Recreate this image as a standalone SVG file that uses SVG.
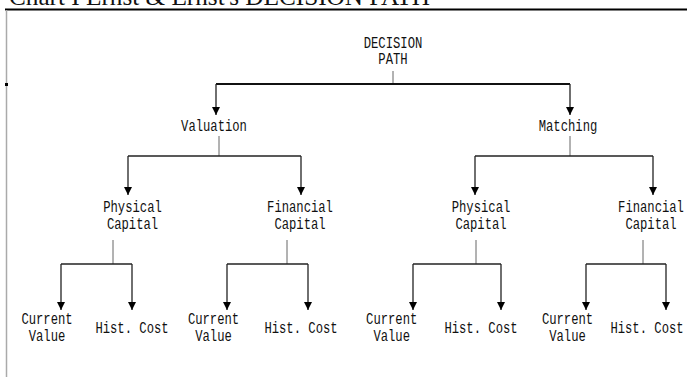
<svg xmlns="http://www.w3.org/2000/svg" width="687" height="377" viewBox="0 0 687 377">
<defs>
<style>
.lbl{font-family:"Liberation Mono","DejaVu Sans Mono",monospace;font-size:12.2px;fill:#111;text-anchor:middle}
.title{font-family:"Liberation Serif","Times New Roman",serif;font-size:24.5px;fill:#111}
.bar{stroke:#222;stroke-width:1.4;fill:none}
.stub{stroke:#666;stroke-width:1;fill:none}
.arr{stroke:#222;stroke-width:1.3;fill:none;marker-end:url(#ah)}
</style>
<marker id="ah" markerUnits="userSpaceOnUse" markerWidth="8" markerHeight="8" refX="8" refY="4" orient="auto">
<path d="M0,0 L8,4 L0,8 z" fill="#000"/>
</marker>
</defs>
<rect width="687" height="377" fill="#fff"/>
<g id="frame">
<text class="title" x="9" y="5" textLength="421" lengthAdjust="spacingAndGlyphs">Chart I Ernst &amp; Ernst's DECISION PATH</text>
<line x1="5" y1="9.5" x2="687" y2="9.5" stroke="#000" stroke-width="2"/>
<line x1="6.5" y1="10" x2="6.5" y2="377" stroke="#aaa" stroke-width="1.5"/>
<rect x="5" y="83" width="3" height="3" fill="#000"/>
</g>
<g id="connectors">
<line class="stub" x1="393" y1="71" x2="393" y2="84"/>
<line x1="216" y1="84" x2="570" y2="84" stroke="#111" stroke-width="2"/>
<line class="arr" x1="216" y1="84" x2="216" y2="115"/>
<line class="arr" x1="570" y1="84" x2="570" y2="115"/>
<line class="stub" x1="219" y1="136" x2="219" y2="156"/>
<line class="bar" x1="128" y1="156" x2="301" y2="156"/>
<line class="arr" x1="128" y1="156" x2="128" y2="195"/>
<line class="arr" x1="301" y1="156" x2="301" y2="195"/>
<line class="stub" x1="570" y1="136" x2="570" y2="156"/>
<line class="bar" x1="475" y1="156" x2="653" y2="156"/>
<line class="arr" x1="475" y1="156" x2="475" y2="195"/>
<line class="arr" x1="653" y1="156" x2="653" y2="195"/>
<line class="stub" x1="113" y1="240" x2="113" y2="264"/>
<line class="bar" x1="61" y1="264" x2="132" y2="264"/>
<line class="arr" x1="61" y1="264" x2="61" y2="310"/>
<line class="arr" x1="132" y1="264" x2="132" y2="310"/>
<line class="stub" x1="287" y1="240" x2="287" y2="264"/>
<line class="bar" x1="227" y1="264" x2="308" y2="264"/>
<line class="arr" x1="227" y1="264" x2="227" y2="310"/>
<line class="arr" x1="308" y1="264" x2="308" y2="310"/>
<line class="stub" x1="476" y1="240" x2="476" y2="264"/>
<line class="bar" x1="413" y1="264" x2="501" y2="264"/>
<line class="arr" x1="413" y1="264" x2="413" y2="310"/>
<line class="arr" x1="501" y1="264" x2="501" y2="310"/>
<line class="stub" x1="643" y1="240" x2="643" y2="264"/>
<line class="bar" x1="586" y1="264" x2="666" y2="264"/>
<line class="arr" x1="586" y1="264" x2="586" y2="310"/>
<line class="arr" x1="666" y1="264" x2="666" y2="310"/>
</g>
<g id="decision-path" transform="translate(393,48.3) scale(1,1.35)"><text class="lbl" x="0" y="0">DECISION</text><text class="lbl" x="0" y="11.85">PATH</text></g>
<g id="valuation" transform="translate(214,131) scale(1,1.35)"><text class="lbl" x="0" y="0">Valuation</text></g>
<g id="matching" transform="translate(568,131) scale(1,1.35)"><text class="lbl" x="0" y="0">Matching</text></g>
<g id="val-physical" transform="translate(132.5,212.3) scale(1,1.35)"><text class="lbl" x="0" y="0">Physical</text><text class="lbl" x="0" y="12.6">Capital</text></g>
<g id="val-financial" transform="translate(300,212.3) scale(1,1.35)"><text class="lbl" x="0" y="0">Financial</text><text class="lbl" x="0" y="12.6">Capital</text></g>
<g id="mat-physical" transform="translate(481,212.3) scale(1,1.35)"><text class="lbl" x="0" y="0">Physical</text><text class="lbl" x="0" y="12.6">Capital</text></g>
<g id="mat-financial" transform="translate(651,212.3) scale(1,1.35)"><text class="lbl" x="0" y="0">Financial</text><text class="lbl" x="0" y="12.6">Capital</text></g>
<g id="vp-current" transform="translate(47,324) scale(1,1.35)"><text class="lbl" x="0" y="0">Current</text><text class="lbl" x="0" y="12.6">Value</text></g>
<g id="vp-hist" transform="translate(132,333) scale(1,1.35)"><text class="lbl" x="0" y="0">Hist. Cost</text></g>
<g id="vf-current" transform="translate(213.5,324) scale(1,1.35)"><text class="lbl" x="0" y="0">Current</text><text class="lbl" x="0" y="12.6">Value</text></g>
<g id="vf-hist" transform="translate(301,333) scale(1,1.35)"><text class="lbl" x="0" y="0">Hist. Cost</text></g>
<g id="mp-current" transform="translate(391.7,324) scale(1,1.35)"><text class="lbl" x="0" y="0">Current</text><text class="lbl" x="0" y="12.6">Value</text></g>
<g id="mp-hist" transform="translate(481,333) scale(1,1.35)"><text class="lbl" x="0" y="0">Hist. Cost</text></g>
<g id="mf-current" transform="translate(567.5,324) scale(1,1.35)"><text class="lbl" x="0" y="0">Current</text><text class="lbl" x="0" y="12.6">Value</text></g>
<g id="mf-hist" transform="translate(647,333) scale(1,1.35)"><text class="lbl" x="0" y="0">Hist. Cost</text></g>
</svg>
